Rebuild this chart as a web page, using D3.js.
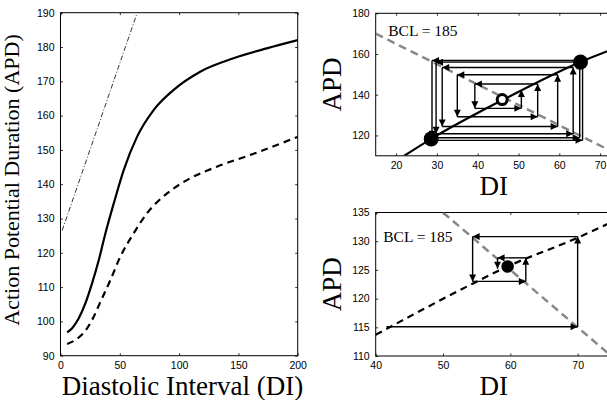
<!DOCTYPE html>
<html>
<head>
<meta charset="utf-8">
<script src="https://cdn.jsdelivr.net/npm/d3@7"></script>
<style>
  body { margin: 0; background: #fff; }
  svg { display: block; }
</style>
</head>
<body>
<svg id="chart" width="607" height="400"></svg>
<script>
// left panel: restitution curves (DI, APD)
const restSolid = [[5.6, 96.8], [9.8, 98.0], [15.4, 100.9], [21.0, 105.3], [26.6, 111.1], [32.3, 117.9],
  [37.9, 125.7], [44.9, 134.4], [53.3, 144.1], [64.5, 153.8], [78.5, 161.6], [95.4, 167.5],
  [117.8, 172.8], [145.9, 176.7], [173.9, 179.6], [200, 182.0]];
const restDashed = [[5.6, 93.4], [15.4, 95.3], [21.0, 97.3], [26.6, 100.4], [33.7, 105.7], [42.1, 112.1],
  [50.5, 118.9], [61.7, 125.7], [72.9, 131.5], [89.8, 137.3], [106.6, 141.2], [131.8, 145.1],
  [159.9, 148.5], [200, 153.8]];
const refLine = [[1.4, 126.5], [64, 189.3]];
const leftXTicks = [0, 50, 100, 150, 200];
const leftYTicks = [90, 100, 110, 120, 130, 140, 150, 160, 170, 180, 190];

// top right panel: alternans cobweb on the solid curve
const topCurve = [[22, 110], [28.6, 118.3], [46, 137.3], [65.2, 156.1], [75, 163.8]];
const bclTop = [[15, 170], [75, 110]];
const topLeftDI = [28.8, 28.8, 29.8, 31.3, 35.0, 39.3];
const topLowAPD = [117.6, 118.9, 120.8, 124.4, 129.2, 133.3];
const topRightDI = [65.7, 65.0, 63.4, 59.6, 54.7, 50.7];
const topHighAPD = [156.8, 156.0, 153.4, 149.8, 145.3, 142.3];
const topStable = [[28.6, 118.3], [65.2, 156.1]];
const topUnstable = [46, 137.6];
const topXTicks = [20, 30, 40, 50, 60, 70];
const topYTicks = [120, 140, 160, 180];

// bottom right panel: cobweb on the dashed curve
const botCurve = [[40, 113.7], [54.4, 122.6], [59.6, 125.6], [70, 130.6], [75, 133.3]];
const bclBot = [[50, 135], [75, 110]];
const botPath = [[41.6, 115.1], [70, 115.1], [70, 130.8], [54.4, 130.8], [54.4, 123.0],
  [62.3, 123.0], [62.3, 127.1], [58.1, 127.1], [58.1, 125.2]];
const botStable = [59.6, 125.6];
const botXTicks = [40, 50, 60, 70];
const botYTicks = [110, 115, 120, 125, 130, 135];

const svg = d3.select("#chart");
const serif = '"Liberation Serif", "Times New Roman", serif';
const sans = '"Liberation Sans", Arial, Helvetica, sans-serif';

svg.append("defs").append("marker")
  .attr("id", "arrow")
  .attr("markerUnits", "userSpaceOnUse")
  .attr("viewBox", "0 0 10 10")
  .attr("refX", 10).attr("refY", 5)
  .attr("markerWidth", 8).attr("markerHeight", 7)
  .attr("orient", "auto")
  .append("path")
  .attr("d", "M0,0L10,5L0,10z")
  .attr("fill", "#000");

function panel(id, box, xDom, yDom, xTicks, yTicks) {
  const x = d3.scaleLinear().domain(xDom).range([0, box.w]);
  const y = d3.scaleLinear().domain(yDom).range([box.h, 0]);
  const g = svg.append("g").attr("transform", `translate(${box.x},${box.y})`);

  g.append("clipPath").attr("id", id)
    .append("rect").attr("width", box.w).attr("height", box.h);

  const tk = 2.5;
  const styleAxis = sel => {
    sel.select(".domain").remove();
    sel.selectAll(".tick line").attr("stroke", "#000").attr("stroke-width", 0.8);
    sel.selectAll("text").attr("font-family", sans).attr("font-size", 10.5).attr("fill", "#000");
  };
  g.append("g").attr("transform", `translate(0,${box.h})`)
    .call(d3.axisBottom(x).tickValues(xTicks).tickSize(-tk).tickPadding(6)).call(styleAxis);
  g.append("g")
    .call(d3.axisTop(x).tickValues(xTicks).tickSize(-tk).tickFormat("")).call(styleAxis);
  g.append("g")
    .call(d3.axisLeft(y).tickValues(yTicks).tickSize(-tk).tickPadding(6)).call(styleAxis);
  g.append("g").attr("transform", `translate(${box.w},0)`)
    .call(d3.axisRight(y).tickValues(yTicks).tickSize(-tk).tickFormat("")).call(styleAxis);

  g.append("rect")
    .attr("width", box.w).attr("height", box.h)
    .attr("fill", "none").attr("stroke", "#000").attr("stroke-width", 1);

  const plot = g.append("g").attr("clip-path", `url(#${id})`);
  return { g, plot, x, y };
}

function addLine(p, pts, stroke, width, dash, curve) {
  const line = d3.line().x(d => p.x(d[0])).y(d => p.y(d[1])).curve(curve || d3.curveLinear);
  p.plot.append("path")
    .attr("d", line(pts))
    .attr("fill", "none")
    .attr("stroke", stroke)
    .attr("stroke-width", width)
    .attr("stroke-dasharray", dash);
}

function addArrows(p, pts, width) {
  for (let i = 1; i < pts.length; i++) {
    p.plot.append("line")
      .attr("x1", p.x(pts[i - 1][0])).attr("y1", p.y(pts[i - 1][1]))
      .attr("x2", p.x(pts[i][0])).attr("y2", p.y(pts[i][1]))
      .attr("stroke", "#000")
      .attr("stroke-width", width)
      .attr("marker-end", "url(#arrow)");
  }
}

// ---- left panel ----
const leftPanel = panel("clipL", { x: 60.5, y: 12.7, w: 237.2, h: 343 }, [0, 200], [90, 190], leftXTicks, leftYTicks);
addLine(leftPanel, refLine, "#000", 0.8, "5,2,1,2");
addLine(leftPanel, restDashed, "#000", 2.2, "7,5", d3.curveMonotoneX);
addLine(leftPanel, restSolid, "#000", 2.2, null, d3.curveMonotoneX);

leftPanel.g.append("text")
  .attr("x", 122).attr("y", 395 - 12.7)
  .attr("text-anchor", "middle")
  .attr("font-family", serif).attr("font-size", 27)
  .text("Diastolic Interval (DI)");
leftPanel.g.append("text")
  .attr("transform", `translate(${19 - 60.5},${180 - 12.7}) rotate(-90)`)
  .attr("text-anchor", "middle")
  .attr("font-family", serif).attr("font-size", 22)
  .text("Action Potential Duration (APD)");

// ---- top right panel ----
const topPanel = panel("clipT", { x: 375.7, y: 13.3, w: 244.8, h: 142.5 }, [15, 75], [110, 180], topXTicks, topYTicks);
addLine(topPanel, bclTop, "#888", 2.5, "8,5");
addLine(topPanel, topCurve, "#000", 2.2, null, d3.curveMonotoneX);

const topPath = [];
topLeftDI.forEach((l, k) => {
  topPath.push([l, topLowAPD[k]], [topRightDI[k], topLowAPD[k]], [topRightDI[k], topHighAPD[k]]);
  if (k < topLeftDI.length - 1) topPath.push([topLeftDI[k + 1], topHighAPD[k]]);
});
addArrows(topPanel, topPath, 1.4);

topPanel.plot.selectAll(".fixed")
  .data(topStable).enter().append("circle")
  .attr("cx", d => topPanel.x(d[0])).attr("cy", d => topPanel.y(d[1]))
  .attr("r", 7.5).attr("fill", "#000");
topPanel.plot.append("circle")
  .attr("cx", topPanel.x(topUnstable[0])).attr("cy", topPanel.y(topUnstable[1]))
  .attr("r", 5).attr("fill", "#fff").attr("stroke", "#000").attr("stroke-width", 3);

topPanel.g.append("text")
  .attr("x", 12.5).attr("y", 23)
  .attr("font-family", serif).attr("font-size", 15.5)
  .text("BCL = 185");
topPanel.g.append("text")
  .attr("x", 118).attr("y", 195 - 13.3)
  .attr("text-anchor", "middle")
  .attr("font-family", serif).attr("font-size", 27)
  .text("DI");
topPanel.g.append("text")
  .attr("transform", `translate(${341 - 375.7},${71.3}) rotate(-90)`)
  .attr("text-anchor", "middle")
  .attr("font-family", serif).attr("font-size", 27)
  .text("APD");

// ---- bottom right panel ----
const botPanel = panel("clipB", { x: 375.7, y: 212.5, w: 235.6, h: 143.5 }, [40, 75], [110, 135], botXTicks, botYTicks);
addLine(botPanel, bclBot, "#888", 2.5, "8,5");
addLine(botPanel, botCurve, "#000", 2.2, "7,5", d3.curveMonotoneX);
addArrows(botPanel, botPath, 1.4);
botPanel.plot.append("circle")
  .attr("cx", botPanel.x(botStable[0])).attr("cy", botPanel.y(botStable[1]))
  .attr("r", 6.3).attr("fill", "#000");

botPanel.g.append("text")
  .attr("x", 7.5).attr("y", 29.5)
  .attr("font-family", serif).attr("font-size", 15.5)
  .text("BCL = 185");
botPanel.g.append("text")
  .attr("x", 118).attr("y", 395 - 212.5)
  .attr("text-anchor", "middle")
  .attr("font-family", serif).attr("font-size", 27)
  .text("DI");
botPanel.g.append("text")
  .attr("transform", `translate(${341 - 375.7},${71.7}) rotate(-90)`)
  .attr("text-anchor", "middle")
  .attr("font-family", serif).attr("font-size", 27)
  .text("APD");
</script>
</body>
</html>
